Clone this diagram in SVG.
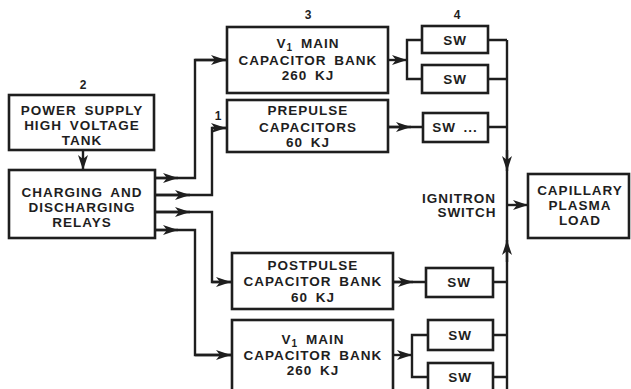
<svg xmlns="http://www.w3.org/2000/svg" width="631" height="389" viewBox="0 0 631 389">
<style>
.box{fill:#fff;stroke:#1e1e1e;stroke-width:2.6}
.ln{fill:none;stroke:#1e1e1e;stroke-width:2.4}
.t{font-family:"Liberation Sans",Arial,sans-serif;font-weight:bold;font-size:13.5px;fill:#1e1e1e;text-anchor:middle;letter-spacing:1px;word-spacing:3px}
.n{font-family:"Liberation Sans",Arial,sans-serif;font-weight:bold;font-size:12px;fill:#1e1e1e;text-anchor:middle}
</style>
<defs>
<marker id="ar" markerUnits="userSpaceOnUse" markerWidth="16" markerHeight="12" refX="15" refY="5" orient="auto" viewBox="0 0 16 10">
<path d="M0,0 L15,5 L0,10 L4,5 Z" fill="#1e1e1e"/>
</marker>
</defs>
<rect width="631" height="389" fill="#fff"/>

<g id="connectors">
<path class="ln" d="M83,150 V170" marker-end="url(#ar)"/>
<path class="ln" d="M155,178 H195 V60 H227"/>
<path class="ln" d="M155,178 H178" marker-end="url(#ar)"/>
<path class="ln" d="M195,60 H226" marker-end="url(#ar)"/>
<path class="ln" d="M155,195 H212 V128 H227"/>
<path class="ln" d="M155,195 H190" marker-end="url(#ar)"/>
<path class="ln" d="M212,128 H226" marker-end="url(#ar)"/>
<path class="ln" d="M155,212 H212 V282 H232"/>
<path class="ln" d="M155,212 H190" marker-end="url(#ar)"/>
<path class="ln" d="M212,282 H231" marker-end="url(#ar)"/>
<path class="ln" d="M155,230 H195 V355 H232"/>
<path class="ln" d="M155,230 H178" marker-end="url(#ar)"/>
<path class="ln" d="M195,355 H231" marker-end="url(#ar)"/>

<path class="ln" d="M388,60 H407" marker-end="url(#ar)"/>
<path class="ln" d="M422,40 H407 V79 H422"/>
<path class="ln" d="M388,127 H423"/>
<path class="ln" d="M388,127 H411" marker-end="url(#ar)"/>
<path class="ln" d="M488,40 H507 M488,79 H507 M488,127 H507"/>
<path class="ln" d="M507,40 V392"/>
<path class="ln" d="M507,150 V171" marker-end="url(#ar)"/>
<path class="ln" d="M507,205 H528" marker-end="url(#ar)"/>
<path class="ln" d="M507,262 V240" marker-end="url(#ar)"/>

<path class="ln" d="M393,282 H426"/>
<path class="ln" d="M393,282 H413" marker-end="url(#ar)"/>
<path class="ln" d="M393,355 H412" marker-end="url(#ar)"/>
<path class="ln" d="M428,335 H412 V377 H428"/>
<path class="ln" d="M493,282 H507 M493,335 H507 M493,377 H507"/>
</g>

<g id="power-supply">
<text class="n" x="83" y="89">2</text>
<rect class="box" x="9" y="95" width="145" height="55"/>
<text class="t" x="82" y="115">POWER SUPPLY</text>
<text class="t" x="82" y="130">HIGH VOLTAGE</text>
<text class="t" x="82" y="145">TANK</text>
</g>

<g id="relays">
<rect class="box" x="9" y="170" width="146" height="68"/>
<text class="t" x="82" y="197">CHARGING AND</text>
<text class="t" x="82" y="212">DISCHARGING</text>
<text class="t" x="82" y="227">RELAYS</text>
</g>

<g id="v1-main-upper">
<text class="n" x="308" y="19">3</text>
<rect class="box" x="227" y="27" width="161" height="66"/>
<text class="t" x="308" y="48">V<tspan font-size="10" dy="3">1</tspan><tspan dy="-3"> MAIN</tspan></text>
<text class="t" x="308" y="65">CAPACITOR BANK</text>
<text class="t" x="308" y="80">260 KJ</text>
</g>

<g id="prepulse">
<text class="n" x="218" y="120">1</text>
<rect class="box" x="227" y="100" width="161" height="52"/>
<text class="t" x="308" y="115">PREPULSE</text>
<text class="t" x="308" y="132">CAPACITORS</text>
<text class="t" x="308" y="147">60 KJ</text>
</g>

<g id="postpulse">
<rect class="box" x="232" y="253" width="161" height="56"/>
<text class="t" x="313" y="270">POSTPULSE</text>
<text class="t" x="313" y="286">CAPACITOR BANK</text>
<text class="t" x="313" y="302">60 KJ</text>
</g>

<g id="v1-main-lower">
<rect class="box" x="232" y="320" width="161" height="80"/>
<text class="t" x="313" y="344">V<tspan font-size="10" dy="3">1</tspan><tspan dy="-3"> MAIN</tspan></text>
<text class="t" x="313" y="360">CAPACITOR BANK</text>
<text class="t" x="313" y="375">260 KJ</text>
</g>

<g id="sw-1">
<text class="n" x="457" y="19">4</text>
<rect class="box" x="422" y="26" width="66" height="27"/>
<text class="t" x="455" y="45">SW</text>
</g>
<g id="sw-2">
<rect class="box" x="422" y="65" width="66" height="28"/>
<text class="t" x="455" y="84">SW</text>
</g>
<g id="sw-3">
<rect class="box" x="423" y="113" width="65" height="29"/>
<text class="t" x="455" y="132">SW ...</text>
</g>
<g id="sw-4">
<rect class="box" x="426" y="268" width="67" height="29"/>
<text class="t" x="459" y="287">SW</text>
</g>
<g id="sw-5">
<rect class="box" x="428" y="320" width="65" height="30"/>
<text class="t" x="460" y="340">SW</text>
</g>
<g id="sw-6">
<rect class="box" x="428" y="363" width="65" height="32"/>
<text class="t" x="460" y="382">SW</text>
</g>

<g id="ignitron">
<text class="t" x="459" y="203">IGNITRON</text>
<text class="t" x="467" y="217">SWITCH</text>
</g>

<g id="capillary">
<rect class="box" x="528" y="174" width="101" height="64"/>
<text class="t" x="580" y="195">CAPILLARY</text>
<text class="t" x="580" y="210">PLASMA</text>
<text class="t" x="580" y="225">LOAD</text>
</g>
</svg>
